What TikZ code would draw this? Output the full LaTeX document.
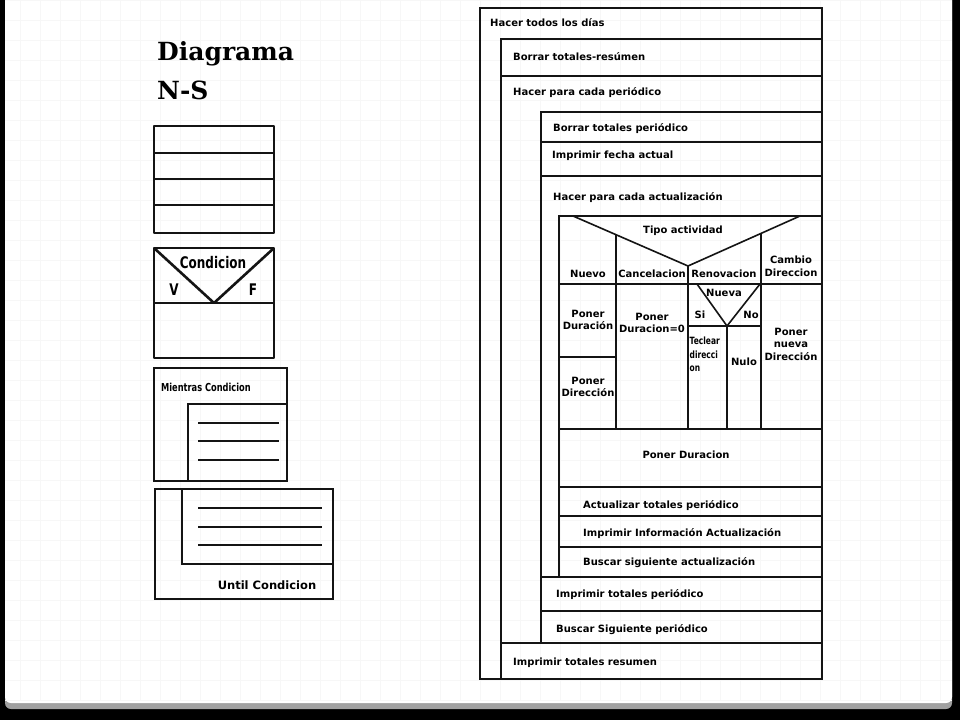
\documentclass[tikz,border=0pt]{standalone}
\usepackage{fontspec}
\setmainfont{DejaVu Sans}
\newfontfamily\titlefont{DejaVu Serif}
\newfontfamily\narrowfont[FakeStretch=0.75]{DejaVu Sans}
\usepackage{tikz}
\usetikzlibrary{positioning, calc}
\definecolor{slide-grid}{HTML}{F7F7F7}
\definecolor{slide-edge}{HTML}{A0A0A0}
\definecolor{ns-ink}{HTML}{141414}

\tikzset{
    nsline/.style={draw=ns-ink, line width=1.6pt},
    symline/.style={draw=ns-ink, line width=2.6pt, line join=round},
    loopline/.style={draw=ns-ink, line width=1.8pt},
    nstext/.style={font=\bfseries\fontsize{10}{12.5}\selectfont, inner sep=0pt, align=center},
    nsleft/.style={nstext, anchor=west}
}

\begin{document}
\begin{tikzpicture}[x=1pt, y=-1pt]
    \useasboundingbox (0,0) rectangle (960,720);
    % slide background
    \fill[black] (0,0) rectangle (960,720);
    \fill[slide-edge, rounded corners=6pt] (5,-10) rectangle (952,709);
    \fill[white, rounded corners=6pt] (5,-10) rectangle (952,703);
    \draw[slide-grid, step=20pt] (5,0) grid (952,700);

    % title
    \node[font=\titlefont\bfseries\fontsize{25}{30}\selectfont, anchor=base west, inner sep=0pt] (title1) at (157,60) {Diagrama};
    \node[font=\titlefont\bfseries\fontsize{25}{30}\selectfont, anchor=base west, inner sep=0pt] (title2) at (157,99) {N-S};

    % secuencia
    \draw[symline] (154,126) rectangle (274,233);
    \foreach \y in {153,179,205}
        \draw[symline] (154,\y) -- (274,\y);

    % decision
    \draw[symline] (154,248) rectangle (274,358);
    \draw[symline] (154,303) -- (274,303);
    \draw[symline] (154,248) -- (214,303) -- (274,248);
    \node[font=\narrowfont\bfseries\fontsize{16}{18}\selectfont, inner sep=0pt] (cond) at (213,263) {Condicion};
    \node[font=\narrowfont\bfseries\fontsize{16}{18}\selectfont, inner sep=0pt] (condv) at (174,290) {V};
    \node[font=\narrowfont\bfseries\fontsize{16}{18}\selectfont, inner sep=0pt] (condf) at (253,290) {F};

    % mientras
    \draw[loopline] (154,368) rectangle (287,481);
    \draw[loopline] (188,481) -- (188,404) -- (287,404);
    \foreach \y in {423,441,460}
        \draw[loopline] (198,\y) -- (279,\y);
    \node[font=\narrowfont\bfseries\fontsize{11}{13}\selectfont, anchor=west, inner sep=0pt] (mientras) at (161,387) {Mientras Condicion};

    % until
    \draw[loopline] (155,489) rectangle (333,599);
    \draw[loopline] (182,489) -- (182,564) -- (333,564);
    \foreach \y in {508,527,545}
        \draw[loopline] (198,\y) -- (322,\y);
    \node[font=\bfseries\fontsize{11.5}{13}\selectfont, inner sep=0pt] (until) at (267,585) {Until Condicion};

    % diagrama N-S
    \draw[nsline] (480,8) rectangle (822,679);
    \draw[nsline] (501,39) rectangle (822,679);
    \draw[nsline] (501,76) -- (822,76);
    \draw[nsline] (501,643) -- (822,643);
    \draw[nsline] (541,112) rectangle (822,643);
    \draw[nsline] (541,142) -- (822,142);
    \draw[nsline] (541,176) -- (822,176);
    \draw[nsline] (541,577) -- (822,577);
    \draw[nsline] (541,611) -- (822,611);
    \draw[nsline] (559,216) rectangle (822,577);
    \foreach \y in {284,429,487,516,547}
        \draw[nsline] (559,\y) -- (822,\y);

    % caso tipo actividad
    \draw[nsline] (573,216) -- (688,266) -- (800,216);
    \draw[nsline] (616,234.7) -- (616,429);
    \draw[nsline] (688,266) -- (688,429);
    \draw[nsline] (761,233.4) -- (761,429);
    \draw[nsline] (559,357) -- (616,357);
    \draw[nsline] (697,284) -- (727,326) -- (760,284);
    \draw[nsline] (688,326) -- (761,326);
    \draw[nsline] (727,326) -- (727,429);

    \node[nsleft] (todos) at (490,23) {Hacer todos los días};
    \node[nsleft] (borrarres) at (513,57) {Borrar totales-resúmen};
    \node[nsleft] (cadaper) at (513,93) {Hacer para cada periódico};
    \node[nsleft] (borrarper) at (553,129) {Borrar totales periódico};
    \node[nsleft] (fecha) at (552,156) {Imprimir fecha actual};
    \node[nsleft] (cadaact) at (553,198) {Hacer para cada actualización};

    \node[nstext] (tipo) at (683,231) {Tipo actividad};
    \node[nstext] (nuevo) at (588,274) {Nuevo};
    \node[nstext] (cancel) at (652,274) {Cancelacion};
    \node[nstext] (renov) at (724,274) {Renovacion};
    \node[nstext] (cambio) at (791,266.5) {Cambio\\Direccion};
    \node[nstext] (ponerdur) at (588,320) {Poner\\Duración};
    \node[nstext] (ponerdir) at (588,387) {Poner\\Dirección};
    \node[nstext] (durcero) at (652,323) {Poner\\Duracion=0};
    \node[nstext] (nueva) at (724,293) {Nueva};
    \node[nstext] (si) at (700,315) {Si};
    \node[nstext] (no) at (751,315) {No};
    \node[font=\narrowfont\bfseries\fontsize{10}{13.5}\selectfont, anchor=north west, align=left, inner sep=0pt] (teclear) at (689.5,337) {Teclear\\direcci\\on};
    \node[nstext] (nulo) at (744,362) {Nulo};
    \node[nstext] (nuevadir) at (791,344) {Poner\\nueva\\Dirección};
    \node[nstext] (ponerdur2) at (686,455) {Poner Duracion};

    \node[nsleft] (actualizar) at (583,506) {Actualizar totales periódico};
    \node[nsleft] (info) at (583,534) {Imprimir Información Actualización};
    \node[nsleft] (siguienteact) at (583,563) {Buscar siguiente actualización};
    \node[nsleft] (totper) at (556,595) {Imprimir totales periódico};
    \node[nsleft] (sigper) at (556,630) {Buscar Siguiente periódico};
    \node[nsleft] (totres) at (513,663) {Imprimir totales resumen};
\end{tikzpicture}
\end{document}
